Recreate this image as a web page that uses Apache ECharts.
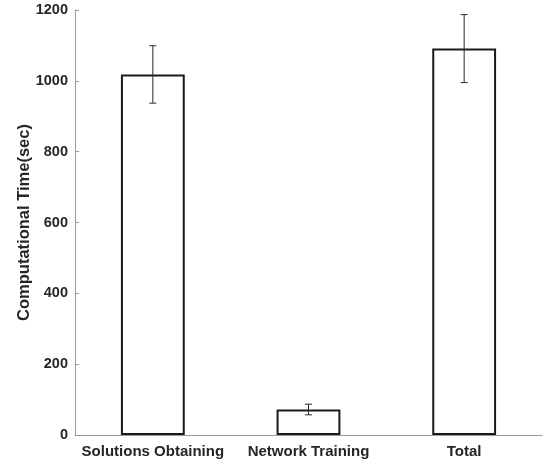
<!DOCTYPE html>
<html>
<head>
<meta charset="utf-8">
<script src="https://cdn.jsdelivr.net/npm/echarts@6/dist/echarts.min.js"></script>
<style>html,body{margin:0;padding:0;background:#fff}#c{width:546px;height:464px}</style>
</head>
<body>
<div id="c"></div>
<script>
const categories = ['Solutions Obtaining', 'Network Training', 'Total'];
const means = [1018, 72, 1091];
const errors = [81, 15, 96];
const yTicks = [0, 200, 400, 600, 800, 1000, 1200];

const chart = echarts.init(document.getElementById('c'));
const errData = categories.map((c, i) => [i, means[i] - errors[i], means[i] + errors[i]]);
const font = 'Liberation Sans, Arial, Helvetica, sans-serif';
chart.setOption({
  animation: false,
  grid: { left: 75, right: 4, top: 10, bottom: 29 },
  xAxis: {
    type: 'category',
    data: categories,
    axisLine: { lineStyle: { color: '#9a9a9a', width: 1 } },
    axisTick: { show: false },
    axisLabel: { interval: 0, color: '#262626', fontWeight: 'bold', fontSize: 15, fontFamily: font, margin: 9 }
  },
  yAxis: {
    type: 'value',
    min: yTicks[0], max: yTicks[yTicks.length - 1], interval: 200,
    name: 'Computational Time(sec)',
    nameLocation: 'middle',
    nameGap: 42,
    nameMoveOverlap: false,
    nameTextStyle: { color: '#262626', fontWeight: 'bold', fontSize: 16.5, fontFamily: font },
    axisLine: { show: true, lineStyle: { color: '#9a9a9a', width: 1 } },
    axisTick: { show: true, inside: true, length: 4, lineStyle: { color: '#9a9a9a' } },
    splitLine: { show: false },
    axisLabel: { color: '#262626', fontWeight: 'bold', fontSize: 14.5, fontFamily: font, margin: 7,
      formatter: function (v) { return String(v); } }
  },
  series: [
    {
      type: 'bar',
      data: means,
      barWidth: '41%',
      itemStyle: { color: '#ffffff', borderColor: '#1a1a1a', borderWidth: 2 }
    },
    {
      type: 'custom',
      data: errData,
      z: 10,
      renderItem: function (params, api) {
        const x = api.value(0);
        const lo = api.coord([x, api.value(1)]);
        const hi = api.coord([x, api.value(2)]);
        const hw = 3.5;
        const style = { stroke: '#2a2a2a', lineWidth: 1 };
        return {
          type: 'group',
          children: [
            { type: 'line', shape: { x1: hi[0], y1: hi[1], x2: lo[0], y2: lo[1] }, style: style },
            { type: 'line', shape: { x1: hi[0] - hw, y1: hi[1], x2: hi[0] + hw, y2: hi[1] }, style: style },
            { type: 'line', shape: { x1: lo[0] - hw, y1: lo[1], x2: lo[0] + hw, y2: lo[1] }, style: style }
          ]
        };
      }
    }
  ]
});
</script>
</body>
</html>
